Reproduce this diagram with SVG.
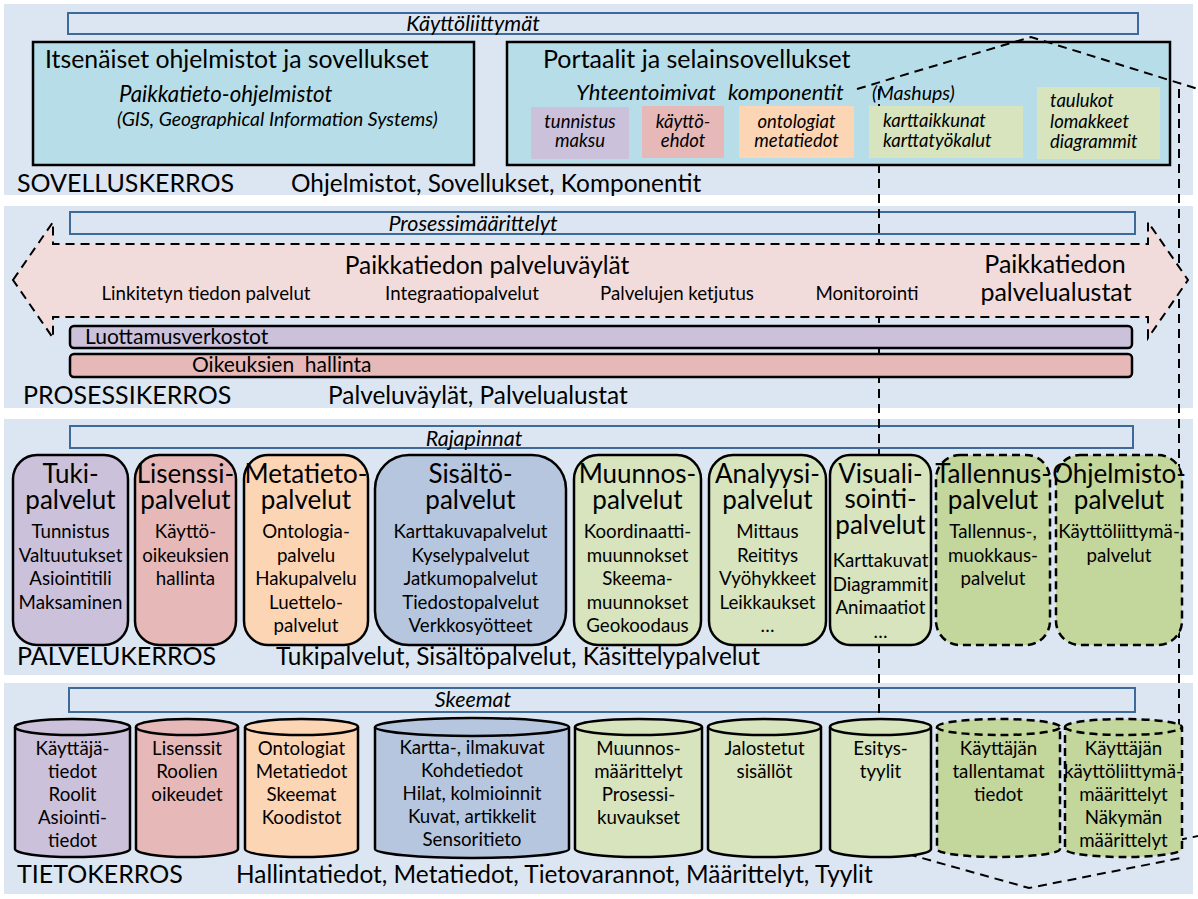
<svg xmlns="http://www.w3.org/2000/svg" width="1198" height="899" viewBox="0 0 1198 899">
<style>
.band{fill:#dce6f2}
.lbl{fill:none;stroke:#3e6a9a;stroke-width:2}
.t{font-family:Lato,"Liberation Sans",sans-serif;fill:#000}
.it{font-style:italic}
.m{text-anchor:middle}
.lay{font-size:25px}
.lay2{font-size:24.4px}
.ttl{font-size:26px;text-anchor:middle}
.itm{font-size:18.7px;text-anchor:middle}
.sub{font-size:18.5px;font-style:italic}
.box{stroke:#000;stroke-width:2.5}
.dbox{stroke:#000;stroke-width:2.5;stroke-dasharray:8 5}
.dash{fill:none;stroke:#000;stroke-width:2;stroke-dasharray:9 6}
.pur{fill:#ccc1da}.red{fill:#e6b9b8}.org{fill:#fcd5b5}.blu{fill:#b5c6de}.lg{fill:#d7e4bd}.dg{fill:#c3d69b}
</style>
<rect width="1198" height="899" fill="#fff"/>
<g id="bands">
<rect class="band" x="4" y="4" width="1189" height="191"/>
<rect class="band" x="4" y="206" width="1189" height="202"/>
<rect class="band" x="4" y="419" width="1189" height="256"/>
<rect class="band" x="4" y="683" width="1189" height="211"/>
</g>
<g id="layer-labels">
<text class="t lay" x="17" y="192">SOVELLUSKERROS</text>
<text class="t lay2" x="291" y="192">Ohjelmistot, Sovellukset, Komponentit</text>
<text class="t lay" x="23" y="404">PROSESSIKERROS</text>
<text class="t lay2" x="328" y="404">Palveluväylät, Palvelualustat</text>
<text class="t lay" x="17" y="665">PALVELUKERROS</text>
<text class="t lay2" x="276" y="665" font-size="23.8">Tukipalvelut, Sisältöpalvelut, Käsittelypalvelut</text>
<text class="t lay" x="17" y="883">TIETOKERROS</text>
<text class="t lay2" x="236" y="883">Hallintatiedot, Metatiedot, Tietovarannot, Määrittelyt, Tyylit</text>
</g>
<g id="node-kayttoliittymat">
<rect class="lbl" x="68" y="13" width="1070" height="21"/>
<text class="t it m" x="473" y="31" font-size="21.5">Käyttöliittymät</text>
</g>
<g id="node-prosessimaarittelyt">
<rect class="lbl" x="70" y="212" width="1065" height="22"/>
<text class="t it m" x="473" y="231" font-size="21.5">Prosessimäärittelyt</text>
</g>
<g id="node-rajapinnat">
<rect class="lbl" x="70" y="426" width="1063" height="22"/>
<text class="t it m" x="474" y="446" font-size="21.5">Rajapinnat</text>
</g>
<g id="node-skeemat">
<rect class="lbl" x="69" y="688" width="1066" height="24"/>
<text class="t it m" x="473" y="707" font-size="21.5">Skeemat</text>
</g>
<g id="node-itsenaiset">
<rect class="box" x="33" y="42" width="441" height="123" fill="#b7dee8"/>
<text class="t" x="45" y="68" font-size="24.8">Itsenäiset ohjelmistot ja sovellukset</text>
<text class="t it" x="119" y="102" font-size="22.3">Paikkatieto-ohjelmistot</text>
<text class="t it" x="117" y="126" font-size="19.4">(GIS, Geographical Information Systems)</text>
</g>
<g id="node-portaalit">
<rect class="box" x="507" y="42" width="663" height="123" fill="#b7dee8"/>
<text class="t" x="543" y="68" font-size="25">Portaalit ja selainsovellukset</text>
<text class="t it" x="576" y="100" font-size="22">Yhteentoimivat</text>
<text class="t it" x="728" y="100" font-size="22">komponentit</text>
<text class="t it" x="872" y="100" font-size="19.5">(Mashups)</text>
</g>
<g id="connectors">
<path class="dash" d="M857 89 L1031 37 L1198 89"/>
<path class="dash" d="M879 89 V850"/>
<path class="dash" d="M1179 89 V840 L1198 836"/>
<path class="dash" d="M879 846 L1029 888 L1181 858"/>
</g>
<g id="node-tunnistus">
<rect class="pur" x="531" y="107" width="98" height="52"/>
<text class="t sub m" x="580" y="128">tunnistus</text>
<text class="t sub m" x="580" y="147">maksu</text>
</g>
<g id="node-kayttoehdot">
<rect class="red" x="642" y="106" width="82" height="52"/>
<text class="t sub m" x="683" y="128">käyttö-</text>
<text class="t sub m" x="683" y="147">ehdot</text>
</g>
<g id="node-ontologiat">
<rect class="org" x="739" y="106" width="115" height="52"/>
<text class="t sub m" x="796.5" y="128">ontologiat</text>
<text class="t sub m" x="796.5" y="147">metatiedot</text>
</g>
<g id="node-karttaikkunat">
<rect class="lg" x="869" y="106" width="154" height="52"/>
<text class="t sub" x="883" y="127">karttaikkunat</text>
<text class="t sub" x="883" y="147">karttatyökalut</text>
</g>
<g id="node-taulukot">
<rect class="lg" x="1037" y="87" width="123" height="72"/>
<text class="t sub" x="1050" y="107">taulukot</text>
<text class="t sub" x="1050" y="128">lomakkeet</text>
<text class="t sub" x="1050" y="148">diagrammit</text>
</g>
<g id="node-palveluvaylat">
<polygon points="13,280 53,222 53,244 1148,244 1148,222 1188,280 1148,338 1148,317 53,317 53,338" fill="#f2dcdb" stroke="#000" stroke-width="2" stroke-dasharray="9 6"/>
<text class="t m" x="487" y="274" font-size="24.5">Paikkatiedon palveluväylät</text>
<text class="t m" x="206" y="300" font-size="18.7">Linkitetyn tiedon palvelut</text>
<text class="t m" x="462" y="300" font-size="18.7">Integraatiopalvelut</text>
<text class="t m" x="677" y="300" font-size="18.7">Palvelujen ketjutus</text>
<text class="t m" x="867" y="300" font-size="18.7">Monitorointi</text>
<text class="t m" x="1055" y="273" font-size="25">Paikkatiedon</text>
<text class="t m" x="1056" y="301" font-size="25">palvelualustat</text>
</g>
<g id="node-luottamus">
<rect class="box pur" x="70" y="326" width="1062" height="22" rx="4" stroke-width="2"/>
<text class="t" x="85" y="344" font-size="21">Luottamusverkostot</text>
</g>
<g id="node-oikeuksien">
<rect class="box red" x="70" y="354" width="1062" height="23" rx="4" stroke-width="2"/>
<text class="t" x="192" y="372" font-size="21" style="white-space:pre">Oikeuksien  hallinta</text>
</g>
<g id="svc-tuki">
<rect class="box pur" x="13" y="455" width="115" height="190" rx="24"/>
<text class="t ttl" x="70.5" y="483">Tuki-</text><text class="t ttl" x="70.5" y="509">palvelut</text>
<text class="t itm" x="70.5" y="538">Tunnistus</text><text class="t itm" x="70.5" y="561.5">Valtuutukset</text><text class="t itm" x="70.5" y="585">Asiointitili</text><text class="t itm" x="70.5" y="608.5">Maksaminen</text>
</g>
<g id="svc-lisenssi">
<rect class="box red" x="135" y="455" width="101" height="190" rx="24"/>
<text class="t ttl" x="185.5" y="483">Lisenssi-</text><text class="t ttl" x="185.5" y="509">palvelut</text>
<text class="t itm" x="185.5" y="538">Käyttö-</text><text class="t itm" x="185.5" y="561.5">oikeuksien</text><text class="t itm" x="185.5" y="585">hallinta</text>
</g>
<g id="svc-metatieto">
<rect class="box org" x="244" y="455" width="124" height="190" rx="24"/>
<text class="t ttl" x="306" y="483">Metatieto-</text><text class="t ttl" x="306" y="509">palvelut</text>
<text class="t itm" x="306" y="538">Ontologia-</text><text class="t itm" x="306" y="561.5">palvelu</text><text class="t itm" x="306" y="585">Hakupalvelu</text><text class="t itm" x="306" y="608.5">Luettelo-</text><text class="t itm" x="306" y="632">palvelut</text>
</g>
<g id="svc-sisalto">
<rect class="box blu" x="375" y="455" width="191" height="190" rx="34"/>
<text class="t ttl" x="470.5" y="483">Sisältö-</text><text class="t ttl" x="470.5" y="509">palvelut</text>
<text class="t itm" x="470.5" y="538">Karttakuvapalvelut</text><text class="t itm" x="470.5" y="561.5">Kyselypalvelut</text><text class="t itm" x="470.5" y="585">Jatkumopalvelut</text><text class="t itm" x="470.5" y="608.5">Tiedostopalvelut</text><text class="t itm" x="470.5" y="632">Verkkosyötteet</text>
</g>
<g id="svc-muunnos">
<rect class="box lg" x="574" y="455" width="127" height="190" rx="24"/>
<text class="t ttl" x="637.5" y="483">Muunnos-</text><text class="t ttl" x="637.5" y="509">palvelut</text>
<text class="t itm" x="637.5" y="538">Koordinaatti-</text><text class="t itm" x="637.5" y="561.5">muunnokset</text><text class="t itm" x="637.5" y="585">Skeema-</text><text class="t itm" x="637.5" y="608.5">muunnokset</text><text class="t itm" x="637.5" y="632">Geokoodaus</text>
</g>
<g id="svc-analyysi">
<rect class="box lg" x="709" y="455" width="117" height="190" rx="24"/>
<text class="t ttl" x="767.5" y="483">Analyysi-</text><text class="t ttl" x="767.5" y="509">palvelut</text>
<text class="t itm" x="767.5" y="538">Mittaus</text><text class="t itm" x="767.5" y="561.5">Reititys</text><text class="t itm" x="767.5" y="585">Vyöhykkeet</text><text class="t itm" x="767.5" y="608.5">Leikkaukset</text><text class="t itm" x="767.5" y="632">…</text>
</g>
<g id="svc-visualisointi">
<rect class="box lg" x="830" y="455" width="101" height="190" rx="20"/>
<text class="t ttl" x="880.5" y="483">Visuali-</text><text class="t ttl" x="880.5" y="508">sointi-</text><text class="t ttl" x="880.5" y="534">palvelut</text>
<text class="t itm" x="880.5" y="567">Karttakuvat</text><text class="t itm" x="880.5" y="590.5">Diagrammit</text><text class="t itm" x="880.5" y="614">Animaatiot</text><text class="t itm" x="880.5" y="637.5">…</text>
</g>
<g id="svc-tallennus">
<rect class="dbox dg" x="936" y="455" width="114" height="190" rx="24"/>
<text class="t ttl" x="993" y="483">Tallennus-</text><text class="t ttl" x="993" y="509">palvelut</text>
<text class="t itm" x="993" y="538">Tallennus-,</text><text class="t itm" x="993" y="561.5">muokkaus-</text><text class="t itm" x="993" y="585">palvelut</text>
</g>
<g id="svc-ohjelmisto">
<rect class="dbox dg" x="1056" y="455" width="126" height="190" rx="24"/>
<text class="t ttl" x="1119" y="483">Ohjelmisto-</text><text class="t ttl" x="1119" y="509">palvelut</text>
<text class="t itm" x="1119" y="538">Käyttöliittymä-</text><text class="t itm" x="1119" y="561.5">palvelut</text>
</g>
<g id="db-kayttajatiedot">
<path class="box pur" d="M15 727 A57.5 8 0 0 1 130 727 V849 A57.5 8 0 0 1 15 849 Z"/><path class="box" fill="none" d="M15 727 A57.5 8 0 0 0 130 727"/>
<text class="t itm" x="72.5" y="755">Käyttäjä-</text><text class="t itm" x="72.5" y="778">tiedot</text><text class="t itm" x="72.5" y="801">Roolit</text><text class="t itm" x="72.5" y="824">Asiointi-</text><text class="t itm" x="72.5" y="847">tiedot</text>
</g>
<g id="db-lisenssit">
<path class="box red" d="M136 727 A51 8 0 0 1 238 727 V849 A51 8 0 0 1 136 849 Z"/><path class="box" fill="none" d="M136 727 A51 8 0 0 0 238 727"/>
<text class="t itm" x="187" y="755">Lisenssit</text><text class="t itm" x="187" y="778">Roolien</text><text class="t itm" x="187" y="801">oikeudet</text>
</g>
<g id="db-ontologiat">
<path class="box org" d="M245 727 A56.5 8 0 0 1 358 727 V849 A56.5 8 0 0 1 245 849 Z"/><path class="box" fill="none" d="M245 727 A56.5 8 0 0 0 358 727"/>
<text class="t itm" x="301.5" y="755">Ontologiat</text><text class="t itm" x="301.5" y="778">Metatiedot</text><text class="t itm" x="301.5" y="801">Skeemat</text><text class="t itm" x="301.5" y="824">Koodistot</text>
</g>
<g id="db-kartta">
<path class="box blu" d="M375 727 A97 9 0 0 1 569 727 V849 A97 9 0 0 1 375 849 Z"/><path class="box" fill="none" d="M375 727 A97 9 0 0 0 569 727"/>
<text class="t itm" x="472" y="754">Kartta-, ilmakuvat</text><text class="t itm" x="472" y="777">Kohdetiedot</text><text class="t itm" x="472" y="800">Hilat, kolmioinnit</text><text class="t itm" x="472" y="823">Kuvat, artikkelit</text><text class="t itm" x="472" y="846">Sensoritieto</text>
</g>
<g id="db-muunnos">
<path class="box lg" d="M575 727 A63.5 8 0 0 1 702 727 V849 A63.5 8 0 0 1 575 849 Z"/><path class="box" fill="none" d="M575 727 A63.5 8 0 0 0 702 727"/>
<text class="t itm" x="638.5" y="755">Muunnos-</text><text class="t itm" x="638.5" y="778">määrittelyt</text><text class="t itm" x="638.5" y="801">Prosessi-</text><text class="t itm" x="638.5" y="824">kuvaukset</text>
</g>
<g id="db-jalostetut">
<path class="box lg" d="M708 727 A56.5 8 0 0 1 821 727 V849 A56.5 8 0 0 1 708 849 Z"/><path class="box" fill="none" d="M708 727 A56.5 8 0 0 0 821 727"/>
<text class="t itm" x="764.5" y="755">Jalostetut</text><text class="t itm" x="764.5" y="778">sisällöt</text>
</g>
<g id="db-esitys">
<path class="box lg" d="M830 727 A50.5 8 0 0 1 931 727 V849 A50.5 8 0 0 1 830 849 Z"/><path class="box" fill="none" d="M830 727 A50.5 8 0 0 0 931 727"/>
<text class="t itm" x="880.5" y="755">Esitys-</text><text class="t itm" x="880.5" y="778">tyylit</text>
</g>
<g id="db-tallentamat">
<path class="dbox dg" d="M937 727 A61.5 8 0 0 1 1060 727 V849 A61.5 8 0 0 1 937 849 Z"/><path class="dbox" fill="none" d="M937 727 A61.5 8 0 0 0 1060 727"/>
<text class="t itm" x="998.5" y="755">Käyttäjän</text><text class="t itm" x="998.5" y="778">tallentamat</text><text class="t itm" x="998.5" y="801">tiedot</text>
</g>
<g id="db-kayttoliittyma">
<path class="dbox dg" d="M1065 727 A58.5 8 0 0 1 1182 727 V849 A58.5 8 0 0 1 1065 849 Z"/><path class="dbox" fill="none" d="M1065 727 A58.5 8 0 0 0 1182 727"/>
<text class="t itm" x="1123.5" y="755">Käyttäjän</text><text class="t itm" x="1123.5" y="778">käyttöliittymä-</text><text class="t itm" x="1123.5" y="801">määrittelyt</text><text class="t itm" x="1123.5" y="824">Näkymän</text><text class="t itm" x="1123.5" y="847">määrittelyt</text>
</g>
</svg>
